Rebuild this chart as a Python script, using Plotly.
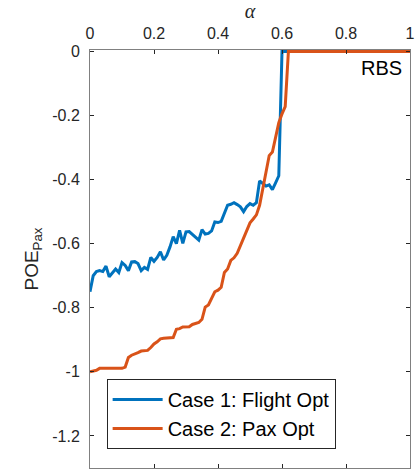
import plotly.graph_objects as go

alpha = [round(i * 0.01, 2) for i in range(101)]

case1_flight_opt = [
    -0.750, -0.700, -0.687, -0.684, -0.687, -0.670, -0.703, -0.690, -0.679, -0.690,
    -0.659, -0.668, -0.684, -0.657, -0.656, -0.662, -0.684, -0.674, -0.680, -0.643,
    -0.655, -0.643, -0.625, -0.651, -0.636, -0.610, -0.578, -0.600, -0.558, -0.599,
    -0.563, -0.562, -0.572, -0.582, -0.589, -0.556, -0.570, -0.568, -0.560, -0.532,
    -0.534, -0.530, -0.505, -0.480, -0.477, -0.472, -0.478, -0.485, -0.500, -0.484,
    -0.475, -0.480, -0.472, -0.404, -0.412, -0.420, -0.416, -0.431, -0.410, -0.388,
] + [0.0] * 41

case2_pax_opt = [
    -1.000, -0.998, -0.995, -0.989, -0.989, -0.989, -0.989, -0.989, -0.989, -0.989,
    -0.989, -0.985, -0.955, -0.948, -0.945, -0.940, -0.935, -0.934, -0.933, -0.924,
    -0.913, -0.906, -0.897, -0.895, -0.895, -0.895, -0.893, -0.867, -0.865, -0.860,
    -0.859, -0.859, -0.852, -0.848, -0.846, -0.836, -0.798, -0.791, -0.772, -0.750,
    -0.745, -0.736, -0.690, -0.679, -0.652, -0.644, -0.630, -0.605, -0.580, -0.560,
    -0.535, -0.523, -0.510, -0.480, -0.430, -0.380, -0.325, -0.314, -0.267, -0.222,
    -0.195, -0.172,
] + [0.0] * 39

x_ticks = [0, 0.2, 0.4, 0.6, 0.8, 1]
x_tick_labels = ["0", "0.2", "0.4", "0.6", "0.8", "1"]
y_ticks = [0, -0.2, -0.4, -0.6, -0.8, -1.0, -1.2]
y_tick_labels = ["0", "-0.2", "-0.4", "-0.6", "-0.8", "-1", "-1.2"]

FONT = "Liberation Sans, Arial, Helvetica, sans-serif"
AX = "#262626"

fig = go.Figure()
fig.add_trace(go.Scatter(x=alpha, y=case1_flight_opt, mode="lines",
                         name="Case 1: Flight Opt",
                         line=dict(color="#0072BD", width=3)))
fig.add_trace(go.Scatter(x=alpha, y=case2_pax_opt, mode="lines",
                         name="Case 2: Pax Opt",
                         line=dict(color="#D95319", width=3)))

fig.add_annotation(text="RBS", x=0.981, y=0.957, xref="paper", yref="paper",
                   xanchor="right", yanchor="middle", showarrow=False,
                   font=dict(family=FONT, size=20, color="#000000"))

fig.update_layout(
    width=416, height=472,
    margin=dict(l=90, r=6, t=50, b=4, autoexpand=False),
    paper_bgcolor="white", plot_bgcolor="white",
    font=dict(family=FONT, size=16, color=AX),
    showlegend=True,
    legend=dict(x=0.052, y=0.213, xanchor="left", yanchor="top",
                bgcolor="white", bordercolor=AX, borderwidth=1,
                font=dict(family=FONT, size=20, color="#000000"),
                itemwidth=50, tracegroupgap=0),
    xaxis=dict(range=[0, 1], side="top", tickvals=x_ticks, ticktext=x_tick_labels,
               ticks="inside", ticklen=4, tickcolor=AX, tickwidth=1,
               showline=True, linecolor="#808080", linewidth=1, mirror="ticks",
               showgrid=False, zeroline=False, automargin=False,
               tickfont=dict(family=FONT, size=16, color=AX),
               ticklabelstandoff=4,
               title=dict(text="<i>α</i>", font=dict(family="Liberation Serif, serif", size=20, color=AX),
                          standoff=4)),
    yaxis=dict(range=[-1.3, 0.0045], tickvals=y_ticks, ticktext=y_tick_labels,
               ticks="inside", ticklen=4, tickcolor=AX, tickwidth=1,
               showline=True, linecolor="#808080", linewidth=1, mirror="ticks",
               showgrid=False, zeroline=False, automargin=False,
               tickfont=dict(family=FONT, size=16, color=AX),
               ticklabelstandoff=6,
               title=dict(text="POE<sub>Pax</sub>", font=dict(family=FONT, size=19, color=AX),
                          standoff=8)),
)

fig.write_html("out.html", config={"displayModeBar": False},
               post_script="document.body.style.margin='0';")
